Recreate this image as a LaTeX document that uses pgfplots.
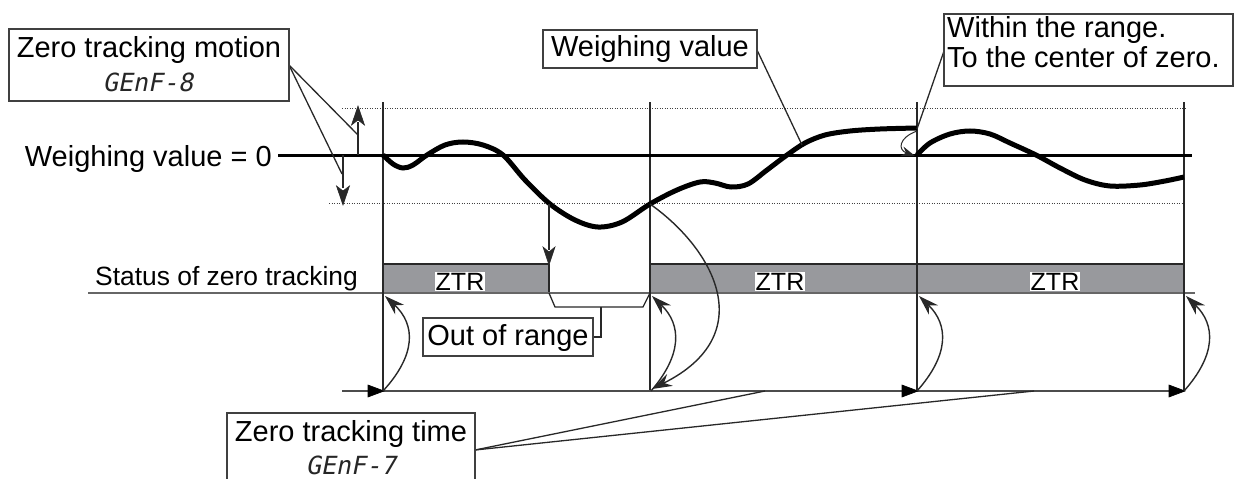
\documentclass[border=0pt]{standalone}
\usepackage{fontspec}
\setmainfont{Liberation Sans}
\newfontfamily\segfont[FakeSlant=0.2]{DejaVu Sans Mono}
\usepackage{pgfplots}
\pgfplotsset{compat=1.18}
\usetikzlibrary{arrows.meta}
\definecolor{barg}{RGB}{152,153,157}
\definecolor{ln}{RGB}{40,40,40}
\newcommand\fbig{\fontsize{29}{33}\selectfont}
\newcommand\fmid{\fontsize{26.4}{30}\selectfont}
\newcommand\fztr{\fontsize{25}{28}\selectfont}
\newcommand\fseg{\segfont\fontsize{25}{28}\selectfont}
\begin{document}
\begin{tikzpicture}
\begin{axis}[name=ax, scale only axis, width=1234pt, height=479pt,
  xmin=0, xmax=1234, ymin=0, ymax=479, y dir=reverse, hide axis, clip=false]
% status bars
\addplot[fill=barg, draw=none] coordinates {(383,264)(549,264)(549,293)(383,293)} -- cycle;
\addplot[fill=barg, draw=none] coordinates {(650,264)(917,264)(917,293)(650,293)} -- cycle;
\addplot[fill=barg, draw=none] coordinates {(917,264)(1184,264)(1184,293)(917,293)} -- cycle;
\addplot[ln, line width=2pt] coordinates {(383,264)(549,264)};
\addplot[ln, line width=2pt] coordinates {(650,264)(1184,264)};
\addplot[ln, line width=2pt] coordinates {(383,293)(549,293)};
\addplot[ln, line width=2pt] coordinates {(650,293)(1184,293)};
\addplot[ln, line width=1.5pt] coordinates {(549,264)(549,293)};
% status baseline
\addplot[black!60, line width=1.5pt] coordinates {(88,293)(1195,293)};
% dotted range lines
\addplot[black!75, line width=0.9pt, dash pattern=on 1pt off 1.5pt] coordinates {(342,108)(1185,108)};
\addplot[black!75, line width=0.9pt, dash pattern=on 1pt off 1.5pt] coordinates {(329,203)(1185,203)};
% vertical time lines
\addplot[ln, line width=1.4pt] coordinates {(383,102)(383,391)};
\addplot[ln, line width=1.4pt] coordinates {(650,102)(650,391)};
\addplot[ln, line width=1.4pt] coordinates {(917,102)(917,391)};
\addplot[ln, line width=1.4pt] coordinates {(1184,102)(1184,391)};
% zero line
\addplot[black, line width=3pt] coordinates {(278,155)(1192,155)};
% weighing value curve
\addplot[black, line width=5pt, smooth, tension=0.55] coordinates {
(383,155)(393,164)(403,168)(413,165)(427,155)(445,145)(463,142)(483,145)(503,155)
(525,180)(550,204)(575,220)(598,227)(622,222)(650,204)(677,190)(700,182)(715,183)
(731,187)(748,184)(767,170)(787,155)(805,143)(825,135)(850,131)(880,129)(917,128)};
\addplot[black, line width=5pt, smooth, tension=0.55] coordinates {
(917,155)(930,143)(950,134)(970,131)(990,134)(1010,143)(1036,155)(1060,168)
(1085,180)(1110,186)(1140,185)(1165,181)(1184,177)};
% bottom time line
\addplot[black!70, line width=1.5pt] coordinates {(342,391)(1184,391)};
% filled arrowheads (triangles) on straight arrows
\addplot[black, fill=black, line width=0.6pt] coordinates {(384,391)(368,385)(368,397)} -- cycle;
\addplot[black, fill=black, line width=0.6pt] coordinates {(918,391)(902,385)(902,397)} -- cycle;
\addplot[black, fill=black, line width=0.6pt] coordinates {(1185,391)(1169,385)(1169,397)} -- cycle;
\addplot[ln, line width=1.4pt] coordinates {(358,155)(358,122)};
\addplot[ln, fill=ln, line width=0.6pt] coordinates {(358,106)(351.5,125)(358,120)(364.5,125)} -- cycle;
\addplot[ln, line width=1.4pt] coordinates {(343,155)(343,188)};
\addplot[ln, fill=ln, line width=0.6pt] coordinates {(343,205)(336.5,186)(343,191)(349.5,186)} -- cycle;
\addplot[ln, line width=1.4pt] coordinates {(549,204)(549,250)};
\addplot[ln, fill=ln, line width=0.6pt] coordinates {(549,265)(543,247)(549,252)(555,247)} -- cycle;
% coordinates for curved arrows
\coordinate (c1a) at (axis cs:383,391); \coordinate (c1b) at (axis cs:416,355); \coordinate (c1c) at (axis cs:416,325); \coordinate (c1d) at (axis cs:385,296);
\coordinate (c2a) at (axis cs:651,391); \coordinate (c2b) at (axis cs:682,355); \coordinate (c2c) at (axis cs:682,325); \coordinate (c2d) at (axis cs:652,296);
\coordinate (c3a) at (axis cs:650,204); \coordinate (c3b) at (axis cs:715,250); \coordinate (c3c) at (axis cs:760,335); \coordinate (c3d) at (axis cs:652,389);
\coordinate (c4a) at (axis cs:917,391); \coordinate (c4b) at (axis cs:949,355); \coordinate (c4c) at (axis cs:949,325); \coordinate (c4d) at (axis cs:919,296);
\coordinate (c5a) at (axis cs:1184,391); \coordinate (c5b) at (axis cs:1216,355); \coordinate (c5c) at (axis cs:1216,325); \coordinate (c5d) at (axis cs:1186,296);
\coordinate (c6a) at (axis cs:917,131); \coordinate (c6b) at (axis cs:898,138); \coordinate (c6c) at (axis cs:898,150); \coordinate (c6d) at (axis cs:915,156);
% out of range bracket
\draw[ln, line width=1.3pt] (axis cs:549,293) -- (axis cs:555,307) -- (axis cs:643,307) -- (axis cs:650,293);
\draw[ln, line width=1.3pt] (axis cs:601,307) -- (axis cs:601,337) -- (axis cs:593,337);
% leader lines
\draw[ln, line width=1.3pt] (axis cs:289,65) -- (axis cs:358,135);
\draw[ln, line width=1.3pt] (axis cs:289,65) -- (axis cs:342,174);
\draw[ln, line width=1.3pt] (axis cs:757,50) -- (axis cs:802,145);
\draw[ln, line width=1.3pt] (axis cs:944,51) -- (axis cs:917,129);
\draw[ln, line width=1.3pt] (axis cs:475,450) -- (axis cs:765,391);
\draw[ln, line width=1.3pt] (axis cs:475,450) -- (axis cs:1034,391);
% boxes
\draw[black!75, line width=1.4pt, fill=white] (axis cs:9,29) rectangle (axis cs:289,101);
\draw[black!75, line width=1.4pt, fill=white] (axis cs:543,30) rectangle (axis cs:757,68);
\draw[black!75, line width=1.4pt, fill=white] (axis cs:944,14) rectangle (axis cs:1233,86);
\draw[black!75, line width=1.4pt, fill=white] (axis cs:423,318) rectangle (axis cs:593,356);
\fill[white] (axis cs:227,413) rectangle (axis cs:475,479);
\draw[black!75, line width=1.4pt] (axis cs:227,479) -- (axis cs:227,413) -- (axis cs:475,413) -- (axis cs:475,479);
% texts
\node[anchor=base, font=\fbig, inner sep=0pt] at (axis cs:149,57.3) {Zero tracking motion};
\node[anchor=center, font=\fseg, inner sep=0pt, black!85] at (axis cs:148,82.5) {GEnF-8};
\node[anchor=base east, font=\fbig, inner sep=0pt] at (axis cs:272,166.5) {Weighing value = 0};
\node[anchor=base, font=\fbig, inner sep=0pt] at (axis cs:650,56.7) {Weighing value};
\node[anchor=base west, font=\fbig, inner sep=0pt] at (axis cs:947,37) {Within the range.};
\node[anchor=base west, font=\fbig, inner sep=0pt] at (axis cs:947,67) {To the center of zero.};
\node[anchor=base west, font=\fmid, inner sep=0pt] at (axis cs:95,285) {Status of zero tracking};
\node[anchor=base, font=\fztr, fill=white, inner sep=1pt] at (axis cs:460,290) {ZTR};
\node[anchor=base, font=\fztr, fill=white, inner sep=1pt] at (axis cs:780,290) {ZTR};
\node[anchor=base, font=\fztr, fill=white, inner sep=1pt] at (axis cs:1055,290) {ZTR};
\node[anchor=base, font=\fbig, inner sep=0pt] at (axis cs:508,345) {Out of range};
\node[anchor=base, font=\fbig, inner sep=0pt] at (axis cs:351,441.7) {Zero tracking time};
\node[anchor=center, font=\fseg, inner sep=0pt, black!85] at (axis cs:351,465) {GEnF-7};
\end{axis}
% curved arrows drawn outside the axis
\tikzset{sh/.style={ln, line width=1.4pt, -{Stealth[length=20pt,width=13pt]}}}
\draw[sh] (c1a) .. controls (c1b) and (c1c) .. (c1d);
\draw[sh] (c2a) .. controls (c2b) and (c2c) .. (c2d);
\draw[sh] (c3a) .. controls (c3b) and (c3c) .. (c3d);
\draw[sh] (c4a) .. controls (c4b) and (c4c) .. (c4d);
\draw[sh] (c5a) .. controls (c5b) and (c5c) .. (c5d);
\draw[ln, line width=1pt, -{Stealth[length=14pt,width=10pt]}] (c6a) .. controls (c6b) and (c6c) .. (c6d);
\pgfresetboundingbox
\path (ax.south west) rectangle (ax.north east);
\end{tikzpicture}
\end{document}
